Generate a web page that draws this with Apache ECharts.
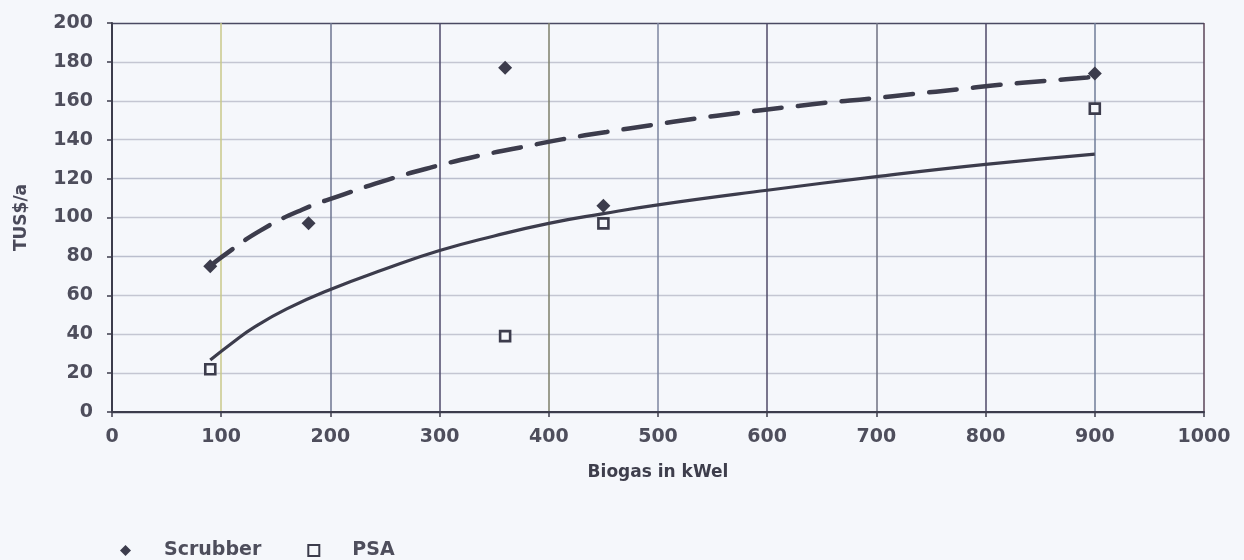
<!DOCTYPE html>
<html>
<head>
<meta charset="utf-8">
<script src="https://cdn.jsdelivr.net/npm/echarts@6/dist/echarts.min.js"></script>
<style>
  html, body { margin: 0; padding: 0; background: #f5f7fb; }
  #chart { width: 1244px; height: 560px; }
</style>
</head>
<body>
<div id="chart"></div>
<script>
// Measured plants: biogas capacity (kWel) and annual cost (TUS$/a)
const scrubberX = [90, 180, 360, 450, 900];
const scrubberY = [75, 97, 177, 106, 174];
const psaX = [90, 360, 450, 900];
const psaY = [22, 39, 97, 156];

// Trend curves
const scrubberTrendX = [90, 100, 135, 174, 213, 253, 294, 334, 374, 413, 453, 494, 534, 574, 615, 654, 696, 734, 775, 813, 854, 893, 900];
const scrubberTrendY = [75, 79.5, 93, 104, 112, 119.5, 126, 131.5, 136, 140.3, 144, 147.5, 150.8, 153.8, 156.5, 159, 161.2, 163.5, 165.9, 168.2, 170.2, 172, 172.4];
const psaTrendX = [90, 110, 130, 160, 200, 250, 300, 350, 400, 450, 500, 600, 700, 800, 900];
const psaTrendY = [26.7, 35.5, 43.5, 53, 63, 73.5, 83, 90.5, 97, 102, 106.5, 114, 121, 127.3, 132.6];

const xTickLabels = ['0', '100', '200', '300', '400', '500', '600', '700', '800', '900', '1000'];
const xAxisName = 'Biogas in kWel';
const yAxisName = 'TUS$/a';

const pairs = (xs, ys) => xs.map((x, i) => [x, ys[i]]);

const ink = '#3c3c4c';
const labelColor = '#4e4e5c';
const fontFamily = '"DejaVu Sans", "Liberation Sans", sans-serif';

// vertical grid lines (x = 0 .. 1000)
const vLineColors = ['#4a4a62', '#c9c98a', '#6c7490', '#4e4a6a', '#7d7f6a', '#7c86a0', '#4f4a68', '#6e7082', '#4e4868', '#6f7c98', '#5a4458'];
// horizontal grid lines (y = 0 .. 200)
const hLineColors = ['#4a4a62', '#c4c6d2', '#c4c6d2', '#c4c6d2', '#babecd', '#c4c6d2', '#babecd', '#c4c6d2', '#c4c6d2', '#c4c6d2', '#4a4a62'];

const chart = echarts.init(document.getElementById('chart'), null, { renderer: 'canvas' });

chart.setOption({
  backgroundColor: '#f5f7fb',
  animation: false,
  grid: { left: 112, right: 40, top: 23, bottom: 148, containLabel: false },
  legend: {
    left: 115,
    top: 536,
    itemGap: 46,
    itemWidth: 11,
    itemHeight: 11,
    data: ['Scrubber', 'PSA'],
    textStyle: {
      fontFamily: fontFamily,
      fontWeight: 'bold',
      fontSize: 19,
      color: labelColor,
      padding: [0, 0, 0, 28]
    }
  },
  xAxis: {
    type: 'value',
    min: 0,
    max: 1000,
    interval: 100,
    name: xAxisName,
    nameLocation: 'middle',
    nameGap: 52,
    nameTextStyle: { fontFamily: fontFamily, fontWeight: 'bold', fontSize: 17, color: '#3e3e4c' },
    axisLine: { show: true, onZero: false, lineStyle: { color: ink, width: 2 } },
    axisTick: { show: true, length: 5, lineStyle: { color: ink, width: 1.5 } },
    axisLabel: {
      fontFamily: fontFamily, fontWeight: 'bold', fontSize: 19, color: labelColor, margin: 16,
      formatter: (v) => xTickLabels[Math.round(v / 100)]
    },
    splitLine: { show: true, lineStyle: { color: vLineColors, width: 1.5 } }
  },
  yAxis: {
    type: 'value',
    min: 0,
    max: 200,
    interval: 20,
    name: yAxisName,
    nameLocation: 'middle',
    nameGap: 82,
    nameRotate: 90,
    nameTextStyle: { fontFamily: fontFamily, fontWeight: 'bold', fontSize: 17, color: '#4a4a5a' },
    axisLine: { show: true, onZero: false, lineStyle: { color: ink, width: 2 } },
    axisTick: { show: true, length: 5, lineStyle: { color: ink, width: 1.5 } },
    axisLabel: { fontFamily: fontFamily, fontWeight: 'bold', fontSize: 19, color: labelColor, margin: 19 },
    splitLine: { show: true, lineStyle: { color: hLineColors, width: 1.3 } }
  },
  series: [
    {
      name: 'Scrubber trend',
      type: 'line',
      data: pairs(scrubberTrendX, scrubberTrendY),
      smooth: true,
      showSymbol: false,
      silent: true,
      lineStyle: { color: ink, width: 4.5, type: [28, 16], cap: 'round' },
      z: 3
    },
    {
      name: 'PSA trend',
      type: 'line',
      data: pairs(psaTrendX, psaTrendY),
      smooth: true,
      showSymbol: false,
      silent: true,
      lineStyle: { color: ink, width: 3.2 },
      z: 3
    },
    {
      name: 'Scrubber',
      type: 'scatter',
      data: pairs(scrubberX, scrubberY),
      symbol: 'diamond',
      symbolSize: 14,
      itemStyle: { color: ink, opacity: 1 },
      z: 4
    },
    {
      name: 'PSA',
      type: 'scatter',
      data: pairs(psaX, psaY),
      symbol: 'rect',
      symbolSize: 10,
      itemStyle: { color: '#f5f7fb', borderColor: ink, borderWidth: 2.6, opacity: 1 },
      z: 4
    }
  ]
});
</script>
</body>
</html>
